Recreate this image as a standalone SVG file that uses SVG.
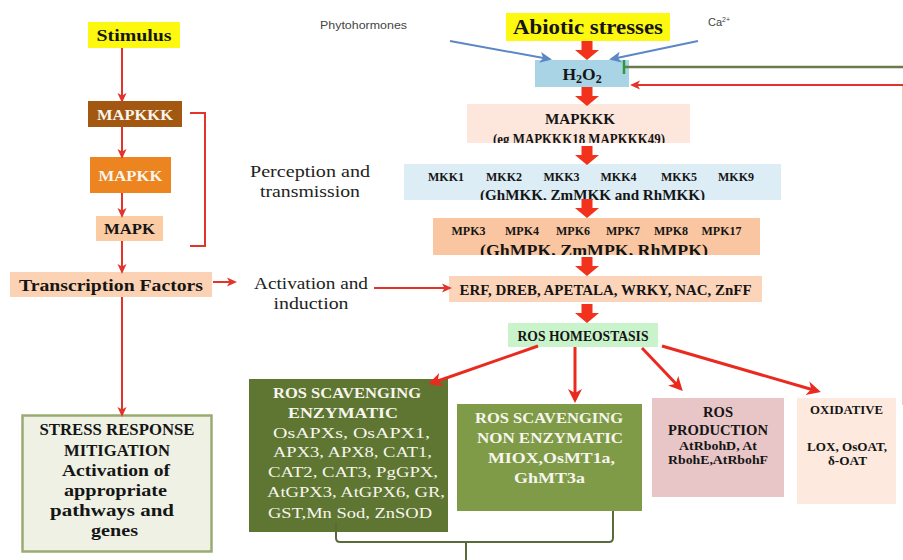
<svg xmlns="http://www.w3.org/2000/svg" width="903" height="560" viewBox="0 0 903 560">
<defs>
<style>
.b{font-family:"Liberation Serif","Times New Roman",serif;font-weight:bold;text-anchor:middle;fill:#151515}
.r{font-family:"Liberation Serif","Times New Roman",serif;text-anchor:middle;fill:#222}
.s{font-family:"Liberation Sans",Arial,sans-serif;fill:#444;font-size:11px}
.w{fill:#f7f5ee}
.ln{fill:none;stroke:#e3342c;stroke-width:2}
.th{fill:none;stroke:#ea2a1f;stroke-width:3}
.bl{fill:none;stroke:#5b87c5;stroke-width:2}
.fat{fill:#f2321c}
.cn{fill:none;stroke:#5b6a3b;stroke-width:2}
</style>
<marker id="ah" markerUnits="userSpaceOnUse" markerWidth="12" markerHeight="12" refX="7" refY="6" orient="auto"><path d="M0,1.5 L10,6 L0,10.5 L2.5,6 Z" fill="#e3342c"/></marker>
<marker id="ah3" markerUnits="userSpaceOnUse" markerWidth="16" markerHeight="16" refX="10" refY="8" orient="auto"><path d="M0,1 L14,8 L0,15 L4,8 Z" fill="#ea2a1f"/></marker>
<marker id="ahb" markerUnits="userSpaceOnUse" markerWidth="14" markerHeight="14" refX="9" refY="7" orient="auto"><path d="M0,1.5 L12,7 L0,12.5 L3,7 Z" fill="#5b87c5"/></marker>
<path id="fa" d="M-5.5,-19 H5.5 V-10 H12 L0,0 L-12,-10 H-5.5 Z"/>
<clipPath id="c1"><rect x="467" y="104" width="223" height="39"/></clipPath>
<clipPath id="c2"><rect x="404" y="164" width="377" height="36"/></clipPath>
<clipPath id="c3"><rect x="433" y="218" width="327" height="37"/></clipPath>
</defs>
<rect width="903" height="560" fill="#ffffff"/>

<!-- left column -->
<g id="stimulus"><rect x="88" y="22" width="92" height="26" fill="#fdf80f"/><text class="b" x="134" y="41" font-size="16.5" textLength="75" lengthAdjust="spacingAndGlyphs">Stimulus</text></g>
<g id="mapkkk-l"><rect x="88" y="101" width="94" height="26" fill="#a35812"/><text class="b w" x="135" y="119.5" font-size="15" textLength="76" lengthAdjust="spacingAndGlyphs">MAPKKK</text></g>
<g id="mapkk-l"><rect x="90" y="157" width="81" height="36" fill="#ec841f"/><text class="b w" x="130.5" y="180.5" font-size="15.5" textLength="64" lengthAdjust="spacingAndGlyphs">MAPKK</text></g>
<g id="mapk-l"><rect x="96" y="216" width="67" height="25" fill="#fbcca3"/><text class="b" x="129.5" y="234" font-size="15.5" textLength="51" lengthAdjust="spacingAndGlyphs">MAPK</text></g>
<g id="tf"><rect x="10" y="272" width="202" height="25" fill="#fbd2b3"/><text class="b" x="111" y="290.5" font-size="16.5" textLength="184" lengthAdjust="spacingAndGlyphs">Transcription Factors</text></g>
<g id="stress"><rect x="22.5" y="415.5" width="189" height="136" fill="#eef1e4" stroke="#9aab72" stroke-width="2.5"/>
<text class="b" font-size="17"><tspan x="117" y="435" textLength="155" lengthAdjust="spacingAndGlyphs">STRESS RESPONSE</tspan><tspan x="117" y="455.5" textLength="106" lengthAdjust="spacingAndGlyphs">MITIGATION</tspan><tspan x="116" y="475.5" textLength="108" lengthAdjust="spacingAndGlyphs">Activation of</tspan><tspan x="115.5" y="495.5" textLength="103" lengthAdjust="spacingAndGlyphs">appropriate</tspan><tspan x="112" y="515.5" textLength="124" lengthAdjust="spacingAndGlyphs">pathways and</tspan><tspan x="114.5" y="536" textLength="47" lengthAdjust="spacingAndGlyphs">genes</tspan></text></g>

<g id="labels">
<text class="r" x="310" y="177" font-size="16.5" textLength="120" lengthAdjust="spacingAndGlyphs">Perception and</text>
<text class="r" x="310" y="197" font-size="16.5" textLength="100" lengthAdjust="spacingAndGlyphs">transmission</text>
<text class="r" x="311" y="289" font-size="16.5" textLength="114" lengthAdjust="spacingAndGlyphs">Activation and</text>
<text class="r" x="311" y="309" font-size="16.5" textLength="75" lengthAdjust="spacingAndGlyphs">induction</text>
<text class="s" x="320" y="29" textLength="87" lengthAdjust="spacingAndGlyphs">Phytohormones</text>
<text class="s" x="708" y="26">Ca<tspan font-size="7" dy="-4">2+</tspan></text>
</g>

<!-- right column -->
<g id="abiotic"><rect x="506" y="13" width="164" height="28" fill="#fdf80f"/><text class="b" x="588" y="34" font-size="20" textLength="150" lengthAdjust="spacingAndGlyphs">Abiotic stresses</text></g>
<g id="h2o2"><rect x="535" y="60" width="94" height="27" fill="#a8d4e5"/><text class="b" x="582" y="80" font-size="17.5">H<tspan font-size="12" dy="3">2</tspan><tspan dy="-3">O</tspan><tspan font-size="12" dy="3">2</tspan></text></g>
<g id="mapkkk-r"><rect x="467" y="104" width="223" height="39" fill="#fde6db"/>
<g clip-path="url(#c1)"><text class="b" x="580" y="124" font-size="15" textLength="70" lengthAdjust="spacingAndGlyphs">MAPKKK</text><text class="b" x="579" y="144" font-size="14.5" textLength="172" lengthAdjust="spacingAndGlyphs">(eg MAPKKK18 MAPKKK49)</text></g></g>
<g id="mkk"><rect x="404" y="164" width="377" height="36" fill="#dcedf5"/>
<g clip-path="url(#c2)" font-size="12"><text class="b" x="446" y="181">MKK1</text><text class="b" x="504" y="181">MKK2</text><text class="b" x="561.5" y="181">MKK3</text><text class="b" x="618.5" y="181">MKK4</text><text class="b" x="679" y="181">MKK5</text><text class="b" x="736" y="181">MKK9</text>
<text class="b" x="592.5" y="199.5" font-size="14" textLength="225" lengthAdjust="spacingAndGlyphs">(GhMKK, ZmMKK and RhMKK)</text></g></g>
<g id="mpk"><rect x="433" y="218" width="327" height="37" fill="#f9c6a1"/>
<g clip-path="url(#c3)" font-size="12"><text class="b" x="468.5" y="234.5">MPK3</text><text class="b" x="522" y="234.5">MPK4</text><text class="b" x="573" y="234.5">MPK6</text><text class="b" x="623" y="234.5">MPK7</text><text class="b" x="671" y="234.5">MPK8</text><text class="b" x="721.5" y="234.5">MPK17</text>
<text class="b" x="594" y="255.5" font-size="17" textLength="228" lengthAdjust="spacingAndGlyphs">(GhMPK, ZmMPK, RhMPK)</text></g></g>
<g id="erf"><rect x="449" y="276" width="313" height="26" fill="#fcd4b9"/><text class="b" x="605.5" y="294.5" font-size="14.5" textLength="292" lengthAdjust="spacingAndGlyphs">ERF, DREB, APETALA, WRKY, NAC, ZnFF</text></g>
<g id="ros-h"><rect x="508" y="323" width="150" height="24" fill="#c8f3cb"/><text class="b" x="583" y="340.5" font-size="15.5" textLength="131" lengthAdjust="spacingAndGlyphs">ROS HOMEOSTASIS</text></g>

<g id="enz"><rect x="249" y="379" width="199" height="153" fill="#5e7632"/>
<text class="b w" font-size="15"><tspan x="347" y="398" textLength="148" lengthAdjust="spacingAndGlyphs">ROS SCAVENGING</tspan><tspan x="343" y="418" textLength="110" lengthAdjust="spacingAndGlyphs">ENZYMATIC</tspan></text>
<text class="r w" font-size="15.5"><tspan x="351.5" y="438" textLength="157" lengthAdjust="spacingAndGlyphs">OsAPXs, OsAPX1,</tspan><tspan x="352.5" y="457" textLength="159" lengthAdjust="spacingAndGlyphs">APX3, APX8, CAT1,</tspan><tspan x="353" y="477" textLength="170" lengthAdjust="spacingAndGlyphs">CAT2, CAT3, PgGPX,</tspan><tspan x="356" y="497" textLength="178" lengthAdjust="spacingAndGlyphs">AtGPX3, AtGPX6, GR,</tspan><tspan x="350" y="518" textLength="164" lengthAdjust="spacingAndGlyphs">GST,Mn Sod, ZnSOD</tspan></text></g>
<g id="nonenz"><rect x="457" y="404" width="185" height="107" fill="#7f9b47"/>
<text class="b w" font-size="15"><tspan x="549" y="423" textLength="148" lengthAdjust="spacingAndGlyphs">ROS SCAVENGING</tspan><tspan x="550" y="443" textLength="146" lengthAdjust="spacingAndGlyphs">NON ENZYMATIC</tspan><tspan x="551.5" y="463" textLength="127" lengthAdjust="spacingAndGlyphs">MIOX,OsMT1a,</tspan><tspan x="549.5" y="483" textLength="71" lengthAdjust="spacingAndGlyphs">GhMT3a</tspan></text></g>
<g id="rosprod"><rect x="652" y="398" width="132" height="99" fill="#e8c5c6"/>
<text class="b" font-size="14.5" fill="#2a1717"><tspan x="718" y="417" textLength="30" lengthAdjust="spacingAndGlyphs">ROS</tspan><tspan x="718" y="435" textLength="100" lengthAdjust="spacingAndGlyphs">PRODUCTION</tspan></text>
<text class="b" font-size="12.5"><tspan x="718" y="450" textLength="78" lengthAdjust="spacingAndGlyphs">AtRbohD, At</tspan><tspan x="718" y="464" textLength="100" lengthAdjust="spacingAndGlyphs">RbohE,AtRbohF</tspan></text></g>
<g id="oxid"><rect x="797" y="398" width="99" height="106" fill="#fde9de"/>
<text class="b" font-size="11.5"><tspan x="846.5" y="414" textLength="73" lengthAdjust="spacingAndGlyphs">OXIDATIVE</tspan></text>
<text class="b" font-size="13"><tspan x="847" y="451" textLength="80" lengthAdjust="spacingAndGlyphs">LOX, OsOAT,</tspan><tspan x="847.5" y="465" textLength="39" lengthAdjust="spacingAndGlyphs">δ-OAT</tspan></text></g>

<g id="connectors">
<line class="ln" x1="122" y1="48" x2="122" y2="100" marker-end="url(#ah)"/>
<line class="ln" x1="122" y1="127" x2="122" y2="156" marker-end="url(#ah)"/>
<line class="ln" x1="122" y1="193" x2="122" y2="215" marker-end="url(#ah)"/>
<line class="ln" x1="122" y1="241" x2="122" y2="271" marker-end="url(#ah)"/>
<line class="ln" x1="213" y1="282" x2="234" y2="282" marker-end="url(#ah)"/>
<line class="ln" x1="122" y1="297" x2="122" y2="414" marker-end="url(#ah)"/>
<path class="ln" d="M190,113 H205 V246 H190"/>
<line class="ln" x1="374" y1="288" x2="449" y2="288" marker-end="url(#ah)"/>
<line class="bl" x1="450" y1="41" x2="549" y2="59" marker-end="url(#ahb)"/>
<line class="bl" x1="698" y1="41" x2="612" y2="59" marker-end="url(#ahb)"/>
<line x1="624" y1="67" x2="903" y2="67" stroke="#6b7a4e" stroke-width="2.5"/>
<line x1="624" y1="60" x2="624" y2="74" stroke="#2a9a3a" stroke-width="2.5"/>
<line x1="902.5" y1="86" x2="902.5" y2="405" stroke="#f2c4c0" stroke-width="1"/>
<line class="ln" x1="903" y1="85" x2="633" y2="85" marker-end="url(#ah)"/>
<use href="#fa" class="fat" x="587" y="60"/>
<use href="#fa" class="fat" x="587" y="106"/>
<use href="#fa" class="fat" x="587" y="165"/>
<use href="#fa" class="fat" x="587" y="218"/>
<use href="#fa" class="fat" x="587" y="276"/>
<use href="#fa" class="fat" x="587" y="323"/>
<line class="th" x1="538" y1="346" x2="432" y2="383" marker-end="url(#ah3)"/>
<line class="th" x1="575" y1="347" x2="575" y2="399" marker-end="url(#ah3)"/>
<line class="th" x1="642" y1="348" x2="680" y2="388" marker-end="url(#ah3)"/>
<line class="th" x1="662" y1="346" x2="817" y2="391" marker-end="url(#ah3)"/>
<path class="cn" d="M336,522 V538 Q336,542 340,542 H609 Q613,542 613,538 V511"/>
<line class="cn" x1="466" y1="542" x2="466" y2="560"/>
</g>
</svg>
